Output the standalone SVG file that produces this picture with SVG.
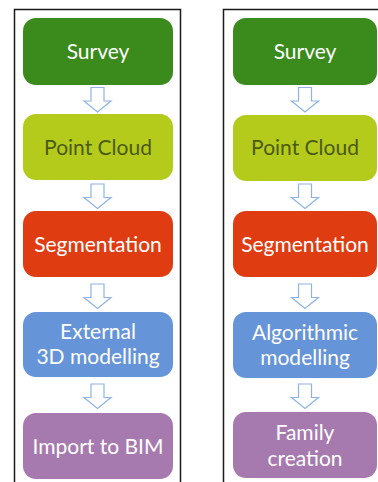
<svg xmlns="http://www.w3.org/2000/svg" width="378" height="482" viewBox="0 0 378 482">
<style>
.t{font-family:Lato,"Liberation Sans",sans-serif;font-size:21px;text-anchor:middle;fill:#ffffff}
.dk{fill:#4b5a12}
.arr{fill:#ffffff;stroke:#8fb3e6;stroke-width:1.2}
.frame{fill:none;stroke:#1a1a1a;stroke-width:1.5}
</style>
<rect x="0" y="0" width="378" height="482" fill="#ffffff"/>
<g id="frames">
<path class="frame" d="M14.5,482 V9.5 H180.5 V482"/>
<path class="frame" d="M223.5,482 V9.5 H378"/>
</g>
<g id="connectors">
<path class="arr" d="M91,87.5 H104 V101 H111 L97.5,112 L84,101 H91 Z"/>
<path class="arr" d="M91,184 H104 V197.5 H111 L97.5,208.5 L84,197.5 H91 Z"/>
<path class="arr" d="M91,284 H104 V297.5 H111 L97.5,308.5 L84,297.5 H91 Z"/>
<path class="arr" d="M91,384 H104 V397.5 H111 L97.5,408.5 L84,397.5 H91 Z"/>
<path class="arr" d="M298.5,87.5 H311.5 V101 H318.5 L305,112 L291.5,101 H298.5 Z"/>
<path class="arr" d="M298.5,184 H311.5 V197.5 H318.5 L305,208.5 L291.5,197.5 H298.5 Z"/>
<path class="arr" d="M298.5,284 H311.5 V297.5 H318.5 L305,308.5 L291.5,297.5 H298.5 Z"/>
<path class="arr" d="M298.5,384 H311.5 V397.5 H318.5 L305,408.5 L291.5,397.5 H298.5 Z"/>
</g>
<g id="l-survey"><rect x="23" y="18" width="150" height="67" rx="13" fill="#3a8a1c"/><text class="t" x="98" y="59">Survey</text></g>
<g id="l-pointcloud"><rect x="23" y="114" width="150" height="66" rx="13" fill="#b4cb1c"/><text class="t dk" x="98" y="155">Point Cloud</text></g>
<g id="l-segmentation"><rect x="23" y="211" width="150" height="66" rx="13" fill="#df3c12"/><text class="t" x="98" y="252">Segmentation</text></g>
<g id="l-external"><rect x="23" y="312" width="150" height="65" rx="13" fill="#6694d8"/><text class="t" x="98" y="339">External</text><text class="t" x="98" y="364">3D modelling</text></g>
<g id="l-import"><rect x="23" y="413" width="150" height="66" rx="13" fill="#a67aae"/><text class="t" x="98" y="454">Import to BIM</text></g>
<g id="r-survey"><rect x="233" y="18" width="144" height="67" rx="13" fill="#3a8a1c"/><text class="t" x="305" y="59">Survey</text></g>
<g id="r-pointcloud"><rect x="233" y="115" width="144" height="66" rx="13" fill="#b4cb1c"/><text class="t dk" x="305" y="155">Point Cloud</text></g>
<g id="r-segmentation"><rect x="233" y="211" width="144" height="66" rx="13" fill="#df3c12"/><text class="t" x="305" y="252">Segmentation</text></g>
<g id="r-algorithmic"><rect x="233" y="312" width="144" height="66" rx="13" fill="#6694d8"/><text class="t" x="305" y="340">Algorithmic</text><text class="t" x="305" y="365">modelling</text></g>
<g id="r-family"><rect x="233" y="412" width="144" height="66" rx="13" fill="#a67aae"/><text class="t" x="305" y="440">Family</text><text class="t" x="305" y="466">creation</text></g>
</svg>
